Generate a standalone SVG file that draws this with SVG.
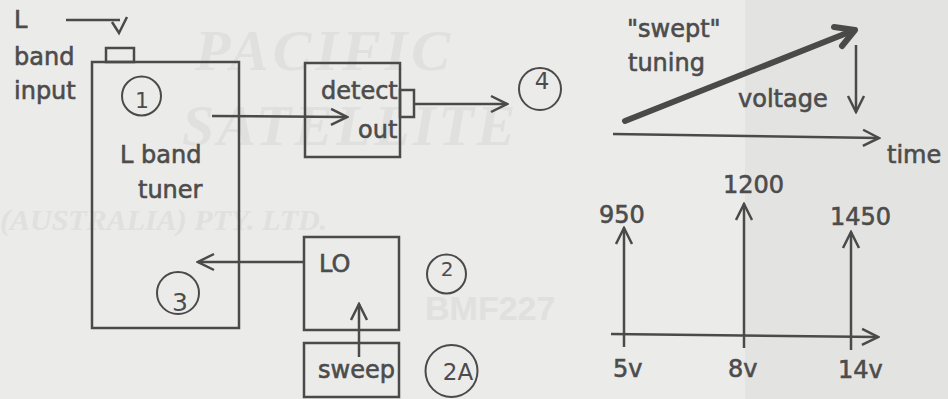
<svg xmlns="http://www.w3.org/2000/svg" width="948" height="399" viewBox="0 0 948 399">
  <style>
    .bg { fill: #ebebea; }
    .wm { font-family: "Liberation Serif", "DejaVu Serif", serif; font-style: italic; font-weight: bold; fill: #e0e0df; }
    .wms { font-family: "Liberation Sans", sans-serif; font-weight: bold; fill: #e0e0df; }
    .box { fill: none; stroke: #4a4a4a; stroke-width: 2.5; }
    .ln { fill: none; stroke: #4a4a4a; stroke-width: 2.5; }
    .lbl { font-family: "DejaVu Sans", "Liberation Sans", sans-serif; font-size: 24px; fill: #4c4c4c; stroke: #4c4c4c; stroke-width: 0.6; }
    .num { font-family: "DejaVu Sans", "Liberation Sans", sans-serif; fill: #4c4c4c; text-anchor: middle; }
    .ring { fill: none; stroke: #4a4a4a; stroke-width: 2; }
  </style>
  <defs>
    <marker id="open" viewBox="0 0 20 20" refX="18" refY="10" markerWidth="20" markerHeight="20" markerUnits="userSpaceOnUse" orient="auto">
      <path d="M2,2 L18,10 L2,18" fill="none" stroke="#4a4a4a" stroke-width="2.5"/>
    </marker>
  </defs>

  <rect class="bg" x="0" y="0" width="948" height="399"/>
  <rect x="745" y="0" width="203" height="399" fill="#e3e3e2"/>

  <!-- faint watermark of the scanned background -->
  <g id="watermark">
    <text class="wm" x="195" y="70" font-size="58" letter-spacing="4">PACIFIC</text>
    <text class="wm" x="182" y="145" font-size="58" letter-spacing="3">SATELLITE</text>
    <text class="wm" x="0" y="230" font-size="30" font-style="normal">(AUSTRALIA) PTY. LTD.</text>
    <text class="wms" x="425" y="320" font-size="34">BMF227</text>
  </g>

  <!-- connectors -->
  <g id="connectors">
    <line class="ln" x1="66" y1="20" x2="120" y2="20"/>
    <polyline class="ln" points="112,22 119,33 127,17"/>
    <line class="ln" x1="212" y1="116" x2="347" y2="117" marker-end="url(#open)"/>
    <line class="ln" x1="414" y1="104" x2="507" y2="104" marker-end="url(#open)"/>
    <line class="ln" x1="304" y1="262" x2="198" y2="262" marker-end="url(#open)"/>
    <line class="ln" x1="359" y1="357" x2="359" y2="304" marker-end="url(#open)"/>
  </g>

  <g id="input-label">
    <text class="lbl" x="14" y="28">L</text>
    <text class="lbl" x="14" y="65">band</text>
    <text class="lbl" x="14" y="99">input</text>
  </g>

  <g id="tuner">
    <rect class="box" x="106" y="48" width="28" height="14"/>
    <rect class="box" x="92" y="62" width="147" height="266"/>
    <text class="lbl" x="120" y="163">L band</text>
    <text class="lbl" x="138" y="198">tuner</text>
  </g>

  <g id="marker-1">
    <circle class="ring" cx="141.5" cy="96" r="19.5"/>
    <text class="num" x="142" y="108" font-size="22">1</text>
  </g>
  <g id="marker-3">
    <circle class="ring" cx="178" cy="293" r="21"/>
    <text class="num" x="180" y="311" font-size="25">3</text>
  </g>

  <g id="detect">
    <rect class="box" x="305" y="63" width="95" height="94"/>
    <rect class="box" x="400" y="90" width="14" height="27"/>
    <text class="lbl" x="321" y="99">detect</text>
    <text class="lbl" x="358" y="138">out</text>
  </g>

  <g id="marker-4">
    <circle class="ring" cx="540" cy="89" r="21"/>
    <text class="num" x="542" y="89" font-size="23">4</text>
  </g>

  <g id="lo">
    <rect class="box" x="304" y="237" width="95" height="93"/>
    <text class="lbl" x="319" y="272">LO</text>
  </g>
  <g id="marker-2">
    <circle class="ring" cx="446.5" cy="274" r="19.5"/>
    <text class="num" x="447" y="276" font-size="20">2</text>
  </g>

  <g id="sweep">
    <rect class="box" x="304" y="343" width="95" height="54"/>
    <text class="lbl" x="318" y="378">sweep</text>
  </g>
  <g id="marker-2a">
    <circle class="ring" cx="451.5" cy="371" r="26"/>
    <text class="num" x="458" y="380" font-size="23">2A</text>
  </g>

  <!-- swept tuning chart -->
  <g id="sweep-chart">
    <line x1="625" y1="121" x2="852" y2="31" stroke="#4a4a4a" stroke-width="6" stroke-linecap="round"/>
    <polyline points="834,27 855,30 842,46" fill="none" stroke="#4a4a4a" stroke-width="6" stroke-linecap="round" stroke-linejoin="round"/>
    <line class="ln" x1="856" y1="45" x2="856" y2="112" marker-end="url(#open)"/>
    <line class="ln" x1="613" y1="134" x2="879" y2="138" marker-end="url(#open)"/>
    <text class="lbl" x="627" y="37">"swept"</text>
    <text class="lbl" x="628" y="71">tuning</text>
    <text class="lbl" x="738" y="107">voltage</text>
    <text class="lbl" x="887" y="163">time</text>
  </g>

  <!-- frequency vs voltage chart -->
  <g id="freq-chart">
    <line class="ln" x1="611" y1="334" x2="878" y2="337" marker-end="url(#open)"/>
    <line class="ln" x1="624" y1="347" x2="624" y2="228" marker-end="url(#open)"/>
    <line class="ln" x1="744" y1="348" x2="744" y2="204" marker-end="url(#open)"/>
    <line class="ln" x1="851" y1="350" x2="851" y2="232" marker-end="url(#open)"/>
    <text class="lbl" x="599" y="223">950</text>
    <text class="lbl" x="723" y="193">1200</text>
    <text class="lbl" x="830" y="225">1450</text>
    <text class="lbl" x="613" y="377">5v</text>
    <text class="lbl" x="728" y="377">8v</text>
    <text class="lbl" x="838" y="378">14v</text>
  </g>
</svg>
